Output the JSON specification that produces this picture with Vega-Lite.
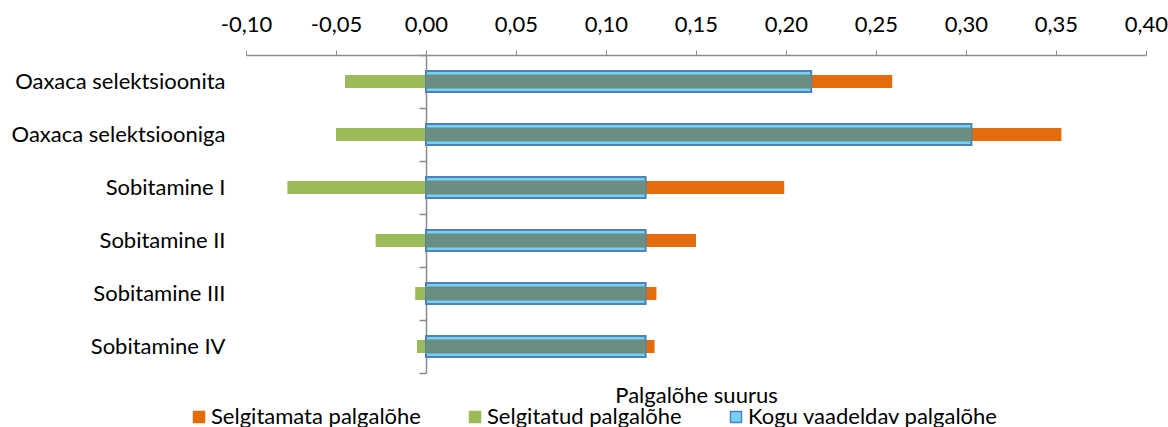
{
  "$schema": "https://vega.github.io/schema/vega-lite/v6.json",
  "autosize": {"type": "none"},
  "width": 900,
  "height": 318,
  "padding": {"left": 246, "top": 55, "right": 22, "bottom": 54},
  "background": "white",
  "config": {
    "view": {"stroke": null},
    "font": "Lato",
    "axis": {"labelFont": "Lato", "titleFont": "Lato", "labelColor": "#000000", "titleColor": "#000000", "grid": false},
    "legend": {"labelFont": "Lato", "labelColor": "#000000"}
  },
  "data": {
    "values": [
      {"group": "Oaxaca selektsioonita", "series": "Selgitamata palgalõhe", "value": 0.259},
      {"group": "Oaxaca selektsioonita", "series": "Selgitatud palgalõhe", "value": -0.045},
      {"group": "Oaxaca selektsioonita", "series": "Kogu vaadeldav palgalõhe", "value": 0.214},
      {"group": "Oaxaca selektsiooniga", "series": "Selgitamata palgalõhe", "value": 0.353},
      {"group": "Oaxaca selektsiooniga", "series": "Selgitatud palgalõhe", "value": -0.050},
      {"group": "Oaxaca selektsiooniga", "series": "Kogu vaadeldav palgalõhe", "value": 0.303},
      {"group": "Sobitamine I", "series": "Selgitamata palgalõhe", "value": 0.199},
      {"group": "Sobitamine I", "series": "Selgitatud palgalõhe", "value": -0.077},
      {"group": "Sobitamine I", "series": "Kogu vaadeldav palgalõhe", "value": 0.122},
      {"group": "Sobitamine II", "series": "Selgitamata palgalõhe", "value": 0.150},
      {"group": "Sobitamine II", "series": "Selgitatud palgalõhe", "value": -0.028},
      {"group": "Sobitamine II", "series": "Kogu vaadeldav palgalõhe", "value": 0.122},
      {"group": "Sobitamine III", "series": "Selgitamata palgalõhe", "value": 0.128},
      {"group": "Sobitamine III", "series": "Selgitatud palgalõhe", "value": -0.006},
      {"group": "Sobitamine III", "series": "Kogu vaadeldav palgalõhe", "value": 0.122},
      {"group": "Sobitamine IV", "series": "Selgitamata palgalõhe", "value": 0.127},
      {"group": "Sobitamine IV", "series": "Selgitatud palgalõhe", "value": -0.005},
      {"group": "Sobitamine IV", "series": "Kogu vaadeldav palgalõhe", "value": 0.122}
    ]
  },
  "encoding": {
    "y": {
      "field": "group",
      "type": "nominal",
      "sort": null,
      "scale": {"paddingInner": 0, "paddingOuter": 0},
      "axis": {
        "title": null,
        "orient": "left",
        "offset": -180,
        "tickBand": "extent",
        "tickSize": 7,
        "tickColor": "#8c8c8c",
        "tickWidth": 1.5,
        "domainColor": "#8c8c8c",
        "domainWidth": 1.5,
        "labelPadding": 194,
        "labelFontSize": 22,
        "labelLimit": 400
      }
    }
  },
  "resolve": {"axis": {"x": "independent"}},
  "layer": [
    {
      "transform": [{"filter": "datum.series !== 'Kogu vaadeldav palgalõhe'"}],
      "mark": {"type": "bar", "size": 13, "strokeWidth": 0},
      "encoding": {
        "x": {
          "field": "value",
          "type": "quantitative",
          "scale": {"domain": [-0.1, 0.4], "nice": false, "zero": false},
          "axis": {
            "orient": "top",
            "title": null,
            "values": [-0.1, -0.05, 0, 0.05, 0.1, 0.15, 0.2, 0.25, 0.3, 0.35, 0.4],
            "labelExpr": "replace(replace(format(datum.value, '.2f'), '.', ','), '\u2212', '-')",
            "labelFlush": false,
            "labelOverlap": false,
            "labelFontSize": 22,
            "labelPadding": 14,
            "tickSize": 5,
            "tickColor": "#8c8c8c",
            "domainColor": "#8c8c8c",
            "domainWidth": 1.5
          }
        },
        "fill": {
          "field": "series",
          "type": "nominal",
          "scale": {
            "domain": ["Selgitamata palgalõhe", "Selgitatud palgalõhe", "Kogu vaadeldav palgalõhe"],
            "range": ["#e46c0a", "#9bbb59", "#74d3f4"]
          },
          "legend": {
            "title": null,
            "orient": "none",
            "direction": "horizontal",
            "legendX": -58,
            "legendY": 351,
            "symbolType": "square",
            "symbolSize": 121,
            "symbolStrokeWidth": 1.5,
            "labelFontSize": 22,
            "labelOffset": 1,
            "columnPadding": 43,
            "labelLimit": 400
          }
        },
        "stroke": {
          "field": "series",
          "type": "nominal",
          "scale": {
            "domain": ["Selgitamata palgalõhe", "Selgitatud palgalõhe", "Kogu vaadeldav palgalõhe"],
            "range": ["#e46c0a", "#9bbb59", "#4f81bd"]
          },
          "legend": {
            "title": null,
            "orient": "none",
            "direction": "horizontal",
            "legendX": -58,
            "legendY": 351,
            "symbolType": "square",
            "symbolSize": 121,
            "symbolStrokeWidth": 1.5,
            "labelFontSize": 22,
            "labelOffset": 1,
            "columnPadding": 43,
            "labelLimit": 400
          }
        }
      }
    },
    {
      "transform": [{"filter": "datum.series === 'Kogu vaadeldav palgalõhe'"}],
      "mark": {"type": "bar", "size": 21, "strokeWidth": 2},
      "encoding": {
        "x": {
          "field": "value",
          "type": "quantitative",
          "axis": {
            "orient": "bottom",
            "title": "Palgalõhe suurus",
            "titleFontSize": 22,
            "titleFontWeight": "normal",
            "titlePadding": 12,
            "labels": false,
            "ticks": false,
            "domain": false
          }
        },
        "fill": {"field": "series", "type": "nominal"},
        "stroke": {"field": "series", "type": "nominal"}
      }
    },
    {
      "transform": [{"filter": "datum.series === 'Kogu vaadeldav palgalõhe'"}],
      "mark": {"type": "bar", "size": 14, "color": "#6c8e80"},
      "encoding": {
        "x": {"field": "value", "type": "quantitative", "axis": null}
      }
    }
  ]
}
